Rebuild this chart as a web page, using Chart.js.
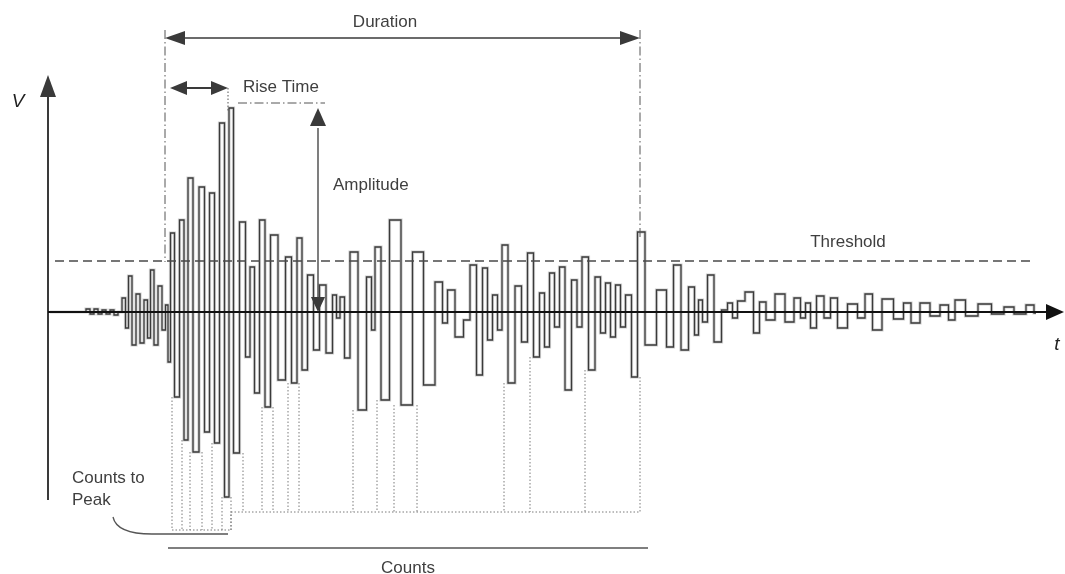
<!DOCTYPE html>
<html>
<head>
<meta charset="utf-8">
<script src="https://cdn.jsdelivr.net/npm/chart.js@4.4.1/dist/chart.umd.min.js"></script>
<style>
  html, body { margin: 0; padding: 0; background: #fff; }
</style>
</head>
<body>
<canvas id="burst" width="1065" height="574"></canvas>
<script>
// acoustic emission hit: time (us) and signal (mV)
const time = [0.2, 3.6, 4.0, 4.4, 4.8, 5.2, 5.6, 6.0, 6.4, 6.8, 7.2,
  7.6, 7.9, 8.2, 8.6, 9.0, 9.4, 9.8, 10.1, 10.4, 10.8, 11.2, 11.6, 11.9,
  12.1, 12.4, 12.9, 13.4, 13.8, 14.2, 14.8, 15.4, 15.9, 16.4, 16.9, 17.4, 17.9, 18.3,
  18.8, 19.5, 20.0, 20.4, 20.9, 21.4, 22.0, 22.5, 23.5, 24.0, 24.7, 25.1, 25.7,
  26.2, 26.9, 27.4, 28.2, 28.7, 29.0, 29.4, 29.9, 30.5, 31.5, 32.2, 32.5, 32.9,
  33.7, 34.6, 36.0, 36.9, 38.2, 39.2, 39.7, 40.2, 41.2, 41.9, 42.5, 43.2, 43.7,
  44.2, 44.7, 45.2, 45.6, 46.4, 47.0, 47.7, 48.2, 48.9, 49.4, 49.9, 50.4, 50.9,
  51.4, 52.0, 52.7, 53.1, 53.7, 54.4, 55.0, 55.5, 56.0, 56.5, 57.0, 57.5, 58.0,
  58.7, 59.2, 60.2, 61.5, 62.2, 62.9, 63.7, 64.4, 64.9, 65.2, 65.7, 66.2, 67.0,
  67.7, 68.2, 68.7, 69.2, 70.2, 70.9, 71.4, 72.2, 73.2, 74.2, 75.0, 75.5, 76.0,
  76.5, 77.2, 78.0, 78.5, 79.4, 80.5, 81.4, 82.0, 82.9, 83.9, 85.2, 85.9, 86.7,
  87.7, 88.7, 89.7, 90.4, 91.0, 92.5, 93.5, 95.2, 96.0, 97.2, 98.4, 98.8];
const volts = [0, 0, 0.3, -0.2, 0.3, -0.2, 0.2, -0.2, 0.2, -0.3, 0,
  1.4, -1.6, 3.6, -3.3, 1.8, -3.1, 1.2, -2.6, 4.2, -3.3, 2.6, -1.8, 0.7,
  -5.0, 7.9, -8.5, 9.2, -12.8, 13.4, -14.0, 12.5, -12.0, 11.9, -13.1, 18.9, -18.5, 20.4,
  -14.1, 9.0, -4.5, 4.5, -8.1, 9.2, -9.5, 7.7, -6.8, 5.5, -7.1, 7.4, -5.8,
  3.7, -3.8, 2.7, -4.1, 1.7, -0.6, 1.5, -4.6, 6.0, -9.8, 3.5, -1.8, 6.5,
  -8.8, 9.2, -9.3, 6.0, -7.3, 3.0, -1.1, 2.2, -2.5, -0.8, 4.7, -6.3, 4.4,
  -2.8, 1.7, -1.8, 6.7, -7.1, 2.6, -3.0, 5.9, -4.5, 1.9, -3.5, 3.9, -1.5,
  4.5, -7.8, 3.2, -1.5, 5.5, -5.8, 3.5, -2.1, 2.9, -2.5, 2.7, -1.5, 1.7,
  -6.5, 8.0, -3.3, 2.2, -3.5, 4.7, -3.8, 2.5, -2.3, 1.2, -1.0, 3.7, -3.0,
  0.2, 0.9, -0.6, 1.1, 2.0, -2.1, 1.0, -0.8, 1.8, -1.0, 1.4, -0.6, 0.9,
  -1.6, 1.6, -0.6, 1.4, -1.6, 0.8, -0.6, 1.8, -1.8, 1.3, -0.7, 0.9, -1.1,
  0.9, -0.4, 0.7, -0.8, 1.2, -0.4, 0.8, -0.2, 0.5, -0.2, 0.7, -0.1];

const threshold = 5.1;
const thresholdSpan = [0.7, 98.7];
const durationSpan = [11.7, 59.2];
const riseSpan = [12.2, 18.0];
const amplitudeAt = 27.0;
const countsSpan = [12.0, 60.0];
const countsToPeakLevel = -21.8;
const countsLevel = -20.0;

const ink = '#3a3a3a';
const label = '#3f3f3f';

function head(ctx, x, y, dx, dy, len, half) {
  // filled triangle, tip at (x,y), pointing along (dx,dy)
  const bx = x - dx * len, by = y - dy * len;
  ctx.beginPath();
  ctx.moveTo(x, y);
  ctx.lineTo(bx - dy * half, by + dx * half);
  ctx.lineTo(bx + dy * half, by - dx * half);
  ctx.closePath();
  ctx.fill();
}

function seg(ctx, x1, y1, x2, y2) {
  ctx.beginPath();
  ctx.moveTo(x1, y1);
  ctx.lineTo(x2, y2);
  ctx.stroke();
}

const annotate = {
  id: 'annotate',
  afterDatasetsDraw(chart) {
    const ctx = chart.ctx;
    const X = v => chart.scales.x.getPixelForValue(v);
    const Y = v => chart.scales.y.getPixelForValue(v);
    ctx.save();
    ctx.fillStyle = ink;
    ctx.strokeStyle = ink;

    // axes
    ctx.lineWidth = 2;
    seg(ctx, X(0), Y(-18.8), X(0), Y(21.5));
    head(ctx, X(0), Y(23.7), 0, -1, 22, 8);
    ctx.strokeStyle = '#111';
    seg(ctx, X(0), Y(0), X(99.8), Y(0));
    ctx.fillStyle = '#111';
    head(ctx, X(101.6), Y(0), 1, 0, 18, 8);

    // counts (dotted verticals from each threshold crossing)
    const peakIdx = volts.indexOf(Math.max(...volts));
    const counted = [];
    ctx.strokeStyle = '#7a7a7a';
    ctx.lineWidth = 1;
    ctx.setLineDash([1.5, 2]);
    volts.forEach((v, i) => {
      if (v <= threshold) return;
      counted.push(time[i]);
      const low = Math.min(volts[i - 1], volts[i + 1]);
      const end = i <= peakIdx ? countsToPeakLevel : countsLevel;
      seg(ctx, X(time[i]), Y(low), X(time[i]), Y(end));
    });
    const tPeak = time[peakIdx];
    seg(ctx, X(counted[0]), Y(countsToPeakLevel), X(tPeak), Y(countsToPeakLevel));
    seg(ctx, X(tPeak), Y(countsToPeakLevel), X(tPeak), Y(countsLevel));
    seg(ctx, X(tPeak), Y(countsLevel), X(counted[counted.length - 1]), Y(countsLevel));

    // duration / rise time markers
    ctx.strokeStyle = '#555';
    ctx.setLineDash([9, 3, 1.5, 3]);
    seg(ctx, X(durationSpan[0]), Y(28.2), X(durationSpan[0]), Y(5.0));
    seg(ctx, X(durationSpan[1]), Y(28.2), X(durationSpan[1]), Y(7.2));
    seg(ctx, X(19.0), Y(20.9), X(27.7), Y(20.9));
    ctx.setLineDash([1.5, 2]);
    seg(ctx, X(riseSpan[1]), Y(22.4), X(riseSpan[1]), Y(20.0));
    ctx.setLineDash([]);

    ctx.strokeStyle = ink;
    ctx.fillStyle = ink;
    ctx.lineWidth = 1.5;
    seg(ctx, X(durationSpan[0]) + 10, Y(27.4), X(durationSpan[1]) - 10, Y(27.4));
    head(ctx, X(durationSpan[0]), Y(27.4), -1, 0, 20, 7);
    head(ctx, X(durationSpan[1]), Y(27.4), 1, 0, 20, 7);
    ctx.lineWidth = 2;
    seg(ctx, X(riseSpan[0]) + 10, Y(22.4), X(riseSpan[1]) - 10, Y(22.4));
    head(ctx, X(riseSpan[0]), Y(22.4), -1, 0, 17, 7);
    head(ctx, X(riseSpan[1]), Y(22.4), 1, 0, 17, 7);

    // amplitude
    ctx.lineWidth = 1.3;
    seg(ctx, X(amplitudeAt), Y(18.4), X(amplitudeAt), Y(1.2));
    head(ctx, X(amplitudeAt), Y(volts[peakIdx]), 0, -1, 18, 8);
    head(ctx, X(amplitudeAt), Y(0), 0, 1, 15, 7);

    // counts bars
    ctx.strokeStyle = '#555';
    ctx.lineWidth = 1.6;
    seg(ctx, X(countsSpan[0]), Y(-23.6), X(countsSpan[1]), Y(-23.6));
    ctx.lineWidth = 1.3;
    ctx.beginPath();
    ctx.moveTo(X(6.5), Y(-20.5));
    ctx.bezierCurveTo(X(6.8), Y(-21.9), X(8.6), Y(-22.2), X(10.4), Y(-22.2));
    ctx.lineTo(X(riseSpan[1]), Y(-22.2));
    ctx.stroke();

    // texts
    ctx.fillStyle = label;
    ctx.textBaseline = 'middle';
    ctx.font = '17px "Liberation Sans", Arial, sans-serif';
    ctx.textAlign = 'center';
    ctx.fillText('Duration', X(33.7), Y(29.0));
    ctx.fillText('Rise Time', X(23.3), Y(22.5));
    ctx.fillText('Threshold', X(80.0), Y(7.0));
    ctx.fillText('Counts', X(36.0), Y(-25.6));
    ctx.textAlign = 'left';
    ctx.fillText('Amplitude', X(28.5), Y(12.7));
    ctx.fillText('Counts to', X(2.4), Y(-16.6));
    ctx.fillText('Peak', X(2.4), Y(-18.8));
    ctx.font = 'italic 19px "Liberation Sans", Arial, sans-serif';
    ctx.textAlign = 'center';
    ctx.fillStyle = '#222';
    ctx.fillText('V', X(-3.0), Y(21.0));
    ctx.fillText('t', X(100.9), Y(-3.3));
    ctx.restore();
  }
};

const trace = time.map((t, i) => ({ x: t, y: volts[i] }));

new Chart(document.getElementById('burst'), {
  type: 'line',
  data: {
    datasets: [
      {
        data: trace,
        borderColor: ink,
        borderWidth: 1.3,
        pointRadius: 0,
        stepped: 'middle',
        fill: false,
        order: 1
      },
      {
        // soft grey halo, like the scanned double stroke
        data: trace,
        borderColor: '#d0d0d0',
        borderWidth: 3.2,
        pointRadius: 0,
        stepped: 'middle',
        fill: false,
        order: 2
      },
      {
        data: thresholdSpan.map(t => ({ x: t, y: threshold })),
        borderColor: '#4a4a4a',
        borderWidth: 1.4,
        borderDash: [9, 5],
        pointRadius: 0,
        fill: false,
        order: 0
      }
    ]
  },
  options: {
    responsive: false,
    animation: false,
    layout: { padding: 0 },
    scales: {
      x: { type: 'linear', min: -4.8, max: 101.7, display: false },
      y: { min: -26.2, max: 31.2, display: false }
    },
    plugins: { legend: { display: false }, tooltip: { enabled: false } }
  },
  plugins: [annotate]
});
</script>
</body>
</html>
